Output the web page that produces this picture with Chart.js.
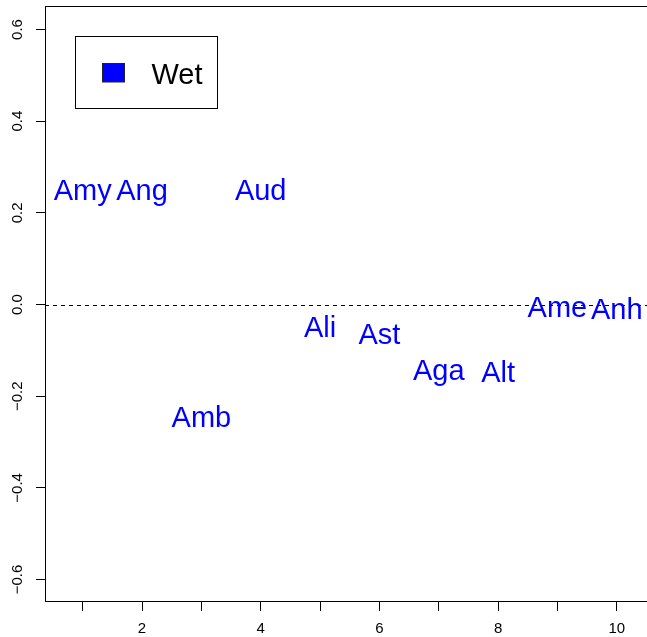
<!DOCTYPE html>
<html>
<head>
<meta charset="utf-8">
<script src="https://cdn.jsdelivr.net/npm/chart.js@4/dist/chart.umd.min.js"></script>
<style>
  html, body { margin: 0; padding: 0; background: #ffffff; }
  #wrap { width: 647px; height: 637px; }
</style>
</head>
<body>
<div id="wrap"><canvas id="c" width="647" height="637"></canvas></div>
<script>
// ---- data ----
const CATEGORIES = ['Amy', 'Ang', 'Amb', 'Aud', 'Ali', 'Ast', 'Aga', 'Alt', 'Ame', 'Anh'];
const X_VALUES = [1, 2, 3, 4, 5, 6, 7, 8, 9, 10];
const Y_VALUES = [0.25, 0.25, -0.245, 0.25, -0.049, -0.064, -0.141, -0.146, -0.004, -0.009];
const SERIES_NAME = 'Wet';
const X_TICKS = [1, 2, 3, 4, 5, 6, 7, 8, 9, 10];
const X_TICK_LABELS = ['', '2', '', '4', '', '6', '', '8', '', '10'];
const Y_TICKS = [-0.6, -0.4, -0.2, 0, 0.2, 0.4, 0.6];
const Y_TICK_LABELS = ['\u22120.6', '\u22120.4', '\u22120.2', '0.0', '0.2', '0.4', '0.6'];

const FONT = '"Liberation Sans", Arial, Helvetica, sans-serif';
const BLUE = '#0000FF';

const points = X_VALUES.map((x, i) => ({ x: x, y: Y_VALUES[i] }));

const drawPlugin = {
  id: 'rstyle',
  afterDatasetsDraw(chart) {
    const ctx = chart.ctx;
    const a = chart.chartArea;
    const ys = chart.scales.y;
    ctx.save();
    // zero dashed line
    const y0 = Math.round(ys.getPixelForValue(0)) + 0.5;
    ctx.strokeStyle = '#000';
    ctx.lineWidth = 1;
    ctx.setLineDash([4, 4]);
    ctx.beginPath();
    ctx.moveTo(a.left, y0);
    ctx.lineTo(a.right, y0);
    ctx.stroke();
    ctx.setLineDash([]);

    // text labels at points
    const meta = chart.getDatasetMeta(0);
    const size = 29;
    ctx.font = size + 'px ' + FONT;
    ctx.fillStyle = BLUE;
    ctx.textAlign = 'center';
    ctx.textBaseline = 'alphabetic';
    meta.data.forEach((el, i) => {
      ctx.fillText(CATEGORIES[i], el.x, el.y + size * 0.716 / 2);
    });

    // box
    ctx.strokeStyle = '#000';
    ctx.lineWidth = 1;
    ctx.strokeRect(a.left + 0.5, a.top - 0.5, a.right - a.left + 2, a.bottom - a.top);

    // y tick labels (rotated)
    ctx.font = '15px ' + FONT;
    ctx.fillStyle = '#000';
    ctx.textAlign = 'center';
    ctx.textBaseline = 'middle';
    Y_TICKS.forEach((v, i) => {
      const py = ys.getPixelForValue(v);
      ctx.save();
      ctx.translate(18, py);
      ctx.rotate(-Math.PI / 2);
      ctx.fillText(Y_TICK_LABELS[i], 0, 0);
      ctx.restore();
    });

    // legend
    const ds = chart.data.datasets[0];
    ctx.strokeStyle = '#000';
    ctx.strokeRect(75.5, 36.5, 142, 72);
    ctx.fillStyle = BLUE;
    ctx.fillRect(102.5, 63.5, 22, 18.5);
    ctx.strokeStyle = '#222';
    ctx.strokeRect(102.5, 63.5, 22, 18.5);
    ctx.fillStyle = '#000';
    ctx.font = '29px ' + FONT;
    ctx.textAlign = 'left';
    ctx.textBaseline = 'alphabetic';
    ctx.fillText(ds.label, 151.5, 83.5);
    ctx.restore();
  }
};

new Chart(document.getElementById('c'), {
  type: 'scatter',
  data: {
    datasets: [{
      label: SERIES_NAME,
      data: points,
      pointRadius: 0,
      pointHoverRadius: 0,
      backgroundColor: BLUE,
      borderColor: BLUE
    }]
  },
  options: {
    responsive: false,
    animation: false,
    devicePixelRatio: 1,
    layout: { padding: { top: 7, left: 0, right: 0, bottom: 0 } },
    plugins: { legend: { display: false }, tooltip: { enabled: false } },
    scales: {
      x: {
        type: 'linear',
        min: 0.365,
        max: 10.51,
        afterBuildTicks: (s) => { s.ticks = X_TICKS.map(v => ({ value: v })); },
        afterFit: (s) => { s.height = 35; s.paddingLeft = 0; s.paddingRight = 0; },
        border: { display: false },
        grid: { drawOnChartArea: false, drawTicks: true, tickLength: 9, color: '#000', lineWidth: 1 },
        ticks: {
          autoSkip: false,
          maxRotation: 0,
          minRotation: 0,
          padding: 9,
          color: '#000',
          font: { family: FONT, size: 15 },
          callback: (v, i) => X_TICK_LABELS[i]
        }
      },
      y: {
        type: 'linear',
        min: -0.649,
        max: 0.649,
        afterBuildTicks: (s) => { s.ticks = Y_TICKS.map(v => ({ value: v })); },
        afterFit: (s) => { s.width = 45; s.paddingTop = 0; s.paddingBottom = 0; },
        border: { display: false },
        grid: { drawOnChartArea: false, drawTicks: true, tickLength: 9, color: '#000', lineWidth: 1 },
        ticks: { display: false }
      }
    }
  },
  plugins: [drawPlugin]
});
</script>
</body>
</html>
